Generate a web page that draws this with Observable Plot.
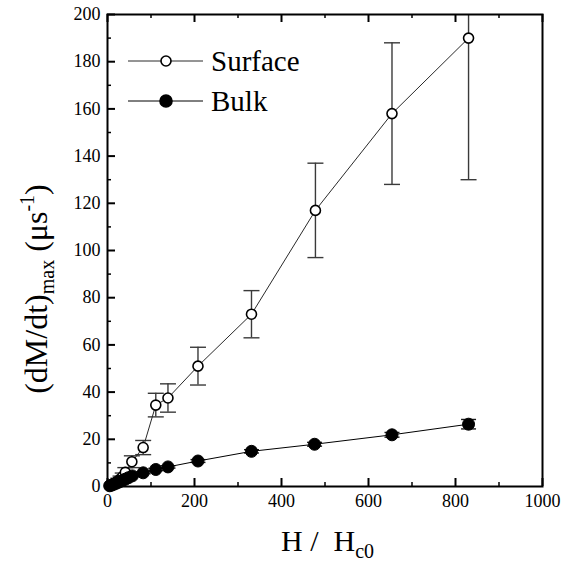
<!DOCTYPE html>
<html>
<head>
<meta charset="utf-8">
<script src="https://cdn.jsdelivr.net/npm/d3@7"></script>
<script src="https://cdn.jsdelivr.net/npm/@observablehq/plot@0.6"></script>
<style>
  html, body { margin: 0; padding: 0; background: #fff; font-family: "Liberation Serif", serif; }
  #chart { width: 570px; height: 563px; }
  #chart svg text { font-family: "Liberation Serif", serif; }
</style>
</head>
<body>
<div id="chart"></div>
<script>
// ---- data ----
const surfaceX = [5, 10, 15, 20, 25, 30, 35, 41, 56, 82, 111, 139, 208, 331, 478, 654, 830];
const surfaceY = [0.3, 0.7, 1.2, 1.8, 2.5, 3.2, 4.2, 6.0, 10.5, 16.5, 34.5, 37.5, 51, 73, 117, 158, 190];
const surfaceErr = [0.2, 0.3, 0.5, 0.7, 1.0, 1.2, 1.5, 2.0, 2.5, 3.0, 5, 6, 8, 10, 20, 30, 60];

const bulkX = [5, 10, 15, 20, 25, 30, 35, 41, 48, 57, 82, 111, 139, 208, 331, 476, 654, 830];
const bulkY = [0.3, 0.6, 1.0, 1.4, 1.8, 2.2, 2.6, 3.1, 3.7, 4.5, 5.8, 7.2, 8.3, 10.8, 14.9, 17.9, 21.9, 26.4];
const bulkErr = [0.1, 0.1, 0.1, 0.2, 0.2, 0.2, 0.3, 0.3, 0.3, 0.4, 0.4, 0.5, 0.5, 0.6, 0.7, 0.8, 1.0, 2.0];

const xTicksMajor = [0, 200, 400, 600, 800, 1000];
const xTicksMinor = [100, 300, 500, 700, 900];
const yTicksMajor = [0, 20, 40, 60, 80, 100, 120, 140, 160, 180, 200];
const yTicksMinor = [10, 30, 50, 70, 90, 110, 130, 150, 170, 190];

const seriesNames = ["Surface", "Bulk"];

// ---- build tables ----
const surface = surfaceX.map((x, i) => ({x, y: surfaceY[i], e: surfaceErr[i]}));
const bulk = bulkX.map((x, i) => ({x, y: bulkY[i], e: bulkErr[i]}));

const W = 570, H = 563;
const mL = 107, mR = 28, mT = 14, mB = 77;
const innerW = W - mL - mR, innerH = H - mT - mB;
const fam = "'Liberation Serif', serif";

const capSymbol = {
  draw(ctx, size) {
    const w = Math.sqrt(size / Math.PI);
    ctx.moveTo(-w, 0);
    ctx.lineTo(w, 0);
  }
};

function errMarks(data, color, capR) {
  return [
    Plot.ruleX(data, {x: "x", y1: d => d.y - d.e, y2: d => d.y + d.e, stroke: color, strokeWidth: 1.4, clip: true}),
    Plot.dot(data, {x: "x", y: d => d.y + d.e, symbol: capSymbol, r: capR, stroke: color, strokeWidth: 1.4, clip: true}),
    Plot.dot(data, {x: "x", y: d => d.y - d.e, symbol: capSymbol, r: capR, stroke: color, strokeWidth: 1.4, clip: true})
  ];
}

const plot = Plot.plot({
  width: W,
  height: H,
  marginLeft: mL,
  marginRight: mR,
  marginTop: mT,
  marginBottom: mB,
  style: {fontFamily: fam, fontSize: "18px", color: "#000", background: "#fff"},
  x: {domain: [0, 1000]},
  y: {domain: [0, 200]},
  marks: [
    // tick labels
    Plot.axisX({ticks: xTicksMajor, tickFormat: d => String(d), tickSize: 0, tickPadding: 8, label: null, fontSize: 18}),
    Plot.axisY({ticks: yTicksMajor, tickFormat: d => String(d), tickSize: 0, tickPadding: 7, label: null, fontSize: 18}),
    // inward ticks bottom
    Plot.tickX(xTicksMajor, {x: d => d, insetTop: innerH - 8, stroke: "#000", strokeWidth: 2}),
    Plot.tickX(xTicksMinor, {x: d => d, insetTop: innerH - 4, stroke: "#000", strokeWidth: 1.5}),
    // inward ticks top
    Plot.tickX(xTicksMajor, {x: d => d, insetBottom: innerH - 8, stroke: "#000", strokeWidth: 2}),
    Plot.tickX(xTicksMinor, {x: d => d, insetBottom: innerH - 4, stroke: "#000", strokeWidth: 1.5}),
    // inward ticks left
    Plot.tickY(yTicksMajor, {y: d => d, insetRight: innerW - 8, stroke: "#000", strokeWidth: 2}),
    Plot.tickY(yTicksMinor, {y: d => d, insetRight: innerW - 4, stroke: "#000", strokeWidth: 1.5}),
    // error bars
    ...errMarks(surface, "#3a3a3a", 8),
    ...errMarks(bulk, "#1a1a1a", 7.5),
    // lines
    Plot.line(surface, {x: "x", y: "y", stroke: "#2a2a2a", strokeWidth: 1}),
    Plot.line(bulk, {x: "x", y: "y", stroke: "#000", strokeWidth: 1}),
    // markers
    Plot.dot(surface, {x: "x", y: "y", r: 5, fill: "#fff", stroke: "#000", strokeWidth: 1.6}),
    Plot.dot(bulk, {x: "x", y: "y", r: 6, fill: "#000", stroke: "#000", strokeWidth: 1}),
    // frame
    Plot.frame({stroke: "#000", strokeWidth: 2})
  ]
});

document.getElementById("chart").appendChild(plot);

// ---- titles and legend (text drawn into the same SVG) ----
const svg = d3.select(plot);

// x title: H / H_c0
const xt = svg.append("text")
  .attr("x", 281).attr("y", 551)
  .attr("text-anchor", "start")
  .attr("font-family", fam).attr("font-size", 30).attr("fill", "#000");
xt.append("tspan").text("H /  H");
xt.append("tspan").attr("font-size", 20).attr("dy", 7).text("c0");

// y title: (dM/dt)_max (μs^-1)
const yt = svg.append("text")
  .attr("transform", "translate(47,289) rotate(-90)")
  .attr("text-anchor", "middle")
  .attr("font-family", fam).attr("font-size", 32).attr("fill", "#000");
yt.append("tspan").text("(dM/dt)");
yt.append("tspan").attr("font-size", 20).attr("dy", 7).text("max");
yt.append("tspan").attr("dy", -7).text(" (μs");
yt.append("tspan").attr("font-size", 20).attr("dy", -13).text("-1");
yt.append("tspan").attr("dy", 13).text(")");

// legend
const lg = svg.append("g");
const legendRows = [
  {name: seriesNames[0], y: 61, fill: "#fff", stroke: "#2a2a2a", r: 5},
  {name: seriesNames[1], y: 101, fill: "#000", stroke: "#000", r: 6}
];
legendRows.forEach(row => {
  lg.append("line").attr("x1", 128).attr("x2", 203).attr("y1", row.y).attr("y2", row.y)
    .attr("stroke", row.stroke).attr("stroke-width", 1);
  lg.append("circle").attr("cx", 166).attr("cy", row.y).attr("r", row.r)
    .attr("fill", row.fill).attr("stroke", "#000").attr("stroke-width", 1.6);
  lg.append("text").attr("x", 211).attr("y", row.y + 10)
    .attr("text-anchor", "start")
    .attr("font-family", fam).attr("font-size", 29).attr("fill", "#000").text(row.name);
});
</script>
</body>
</html>
